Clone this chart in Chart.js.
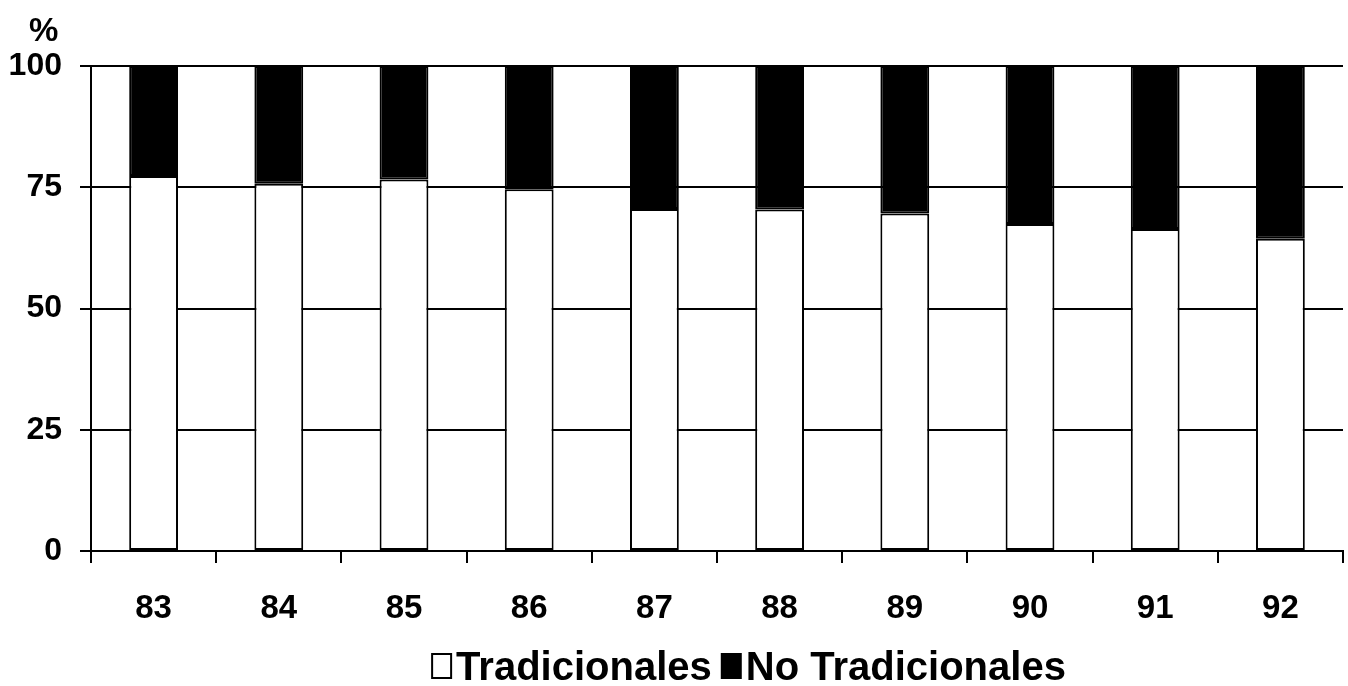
<!DOCTYPE html>
<html>
<head>
<meta charset="utf-8">
<style>
  html, body { margin: 0; padding: 0; background: #ffffff; }
  #wrap { width: 1348px; height: 686px; position: relative; }
</style>
<script src="https://cdn.jsdelivr.net/npm/chart.js@4/dist/chart.umd.min.js"></script>
</head>
<body>
<div id="wrap"><canvas id="c" width="1348" height="686"></canvas></div>
<script>
// Years (two-digit) on the category axis
const years = ['83', '84', '85', '86', '87', '88', '89', '90', '91', '92'];
// Share of traditional and non-traditional items, in percent
const tradicionales   = [77.3, 75.7, 76.6, 74.6, 70.5, 70.4, 69.6, 67.4, 66.4, 64.4];
const noTradicionales = [22.7, 24.3, 23.4, 25.4, 29.5, 29.6, 30.4, 32.6, 33.6, 35.6];
// Value axis ticks
const yTicks = [0, 25, 50, 75, 100];
const yUnit = '%';

const FONT = '"Liberation Sans", Arial, Helvetica, sans-serif';

// Unit label above the value axis and a legend line at the bottom
const extras = {
  id: 'extras',
  afterDraw(chart) {
    const ctx = chart.ctx;
    ctx.save();
    ctx.fillStyle = '#000';
    ctx.font = 'bold 33px ' + FONT;
    ctx.textAlign = 'left';
    ctx.textBaseline = 'alphabetic';
    ctx.fillText(yUnit, 29, 41);

    // legend
    ctx.font = 'bold 40px ' + FONT;
    const items = chart.data.datasets.map(ds => ({ label: ds.label, fill: ds.backgroundColor }));
    const box = 19, gapBoxText = 5, gapItems = 10;
    let total = 0;
    items.forEach((it, i) => {
      total += box + gapBoxText + ctx.measureText(it.label).width;
      if (i < items.length - 1) total += gapItems;
    });
    let x = 749 - total / 2;
    const base = 680;
    items.forEach(it => {
      ctx.fillStyle = it.fill;
      ctx.fillRect(x, base - 26, box, 24);
      ctx.strokeStyle = '#000';
      ctx.lineWidth = 2;
      ctx.strokeRect(x, base - 26, box, 24);
      x += box + gapBoxText;
      ctx.fillStyle = '#000';
      ctx.fillText(it.label, x, base);
      x += ctx.measureText(it.label).width + gapItems;
    });
    ctx.restore();
  }
};

new Chart(document.getElementById('c'), {
  type: 'bar',
  data: {
    labels: years,
    datasets: [
      {
        label: 'Tradicionales',
        data: tradicionales,
        backgroundColor: '#ffffff',
        borderColor: '#000000',
        borderWidth: 2,
        borderSkipped: false
      },
      {
        label: 'No Tradicionales',
        data: noTradicionales,
        backgroundColor: '#000000',
        borderColor: '#000000',
        borderWidth: 2,
        borderSkipped: false
      }
    ]
  },
  options: {
    responsive: false,
    animation: false,
    devicePixelRatio: 1,
    layout: { padding: { top: 66, right: 5, bottom: 0, left: 0 } },
    datasets: { bar: { categoryPercentage: 1.0, barPercentage: 0.39 } },
    plugins: {
      legend: { display: false },
      tooltip: { enabled: false }
    },
    scales: {
      x: {
        stacked: true,
        afterFit(scale) { scale.height = 135; },
        grid: {
          offset: true,
          drawOnChartArea: false,
          drawTicks: true,
          tickLength: 12,
          color: '#000',
          lineWidth: 2
        },
        border: { display: true, color: '#000', width: 2 },
        ticks: {
          color: '#000',
          font: { family: FONT, size: 33, weight: 'bold' },
          padding: 26
        }
      },
      y: {
        stacked: true,
        min: 0,
        max: 100,
        afterFit(scale) { scale.width = 91; },
        afterBuildTicks(scale) { scale.ticks = yTicks.map(v => ({ value: v })); },
        grid: {
          color: '#000',
          lineWidth: 2,
          drawTicks: true,
          tickLength: 11
        },
        border: { display: true, color: '#000', width: 2 },
        ticks: {
          color: '#000',
          font: { family: FONT, size: 32, weight: 'bold' },
          padding: 18
        }
      }
    }
  },
  plugins: [extras]
});
</script>
</body>
</html>
